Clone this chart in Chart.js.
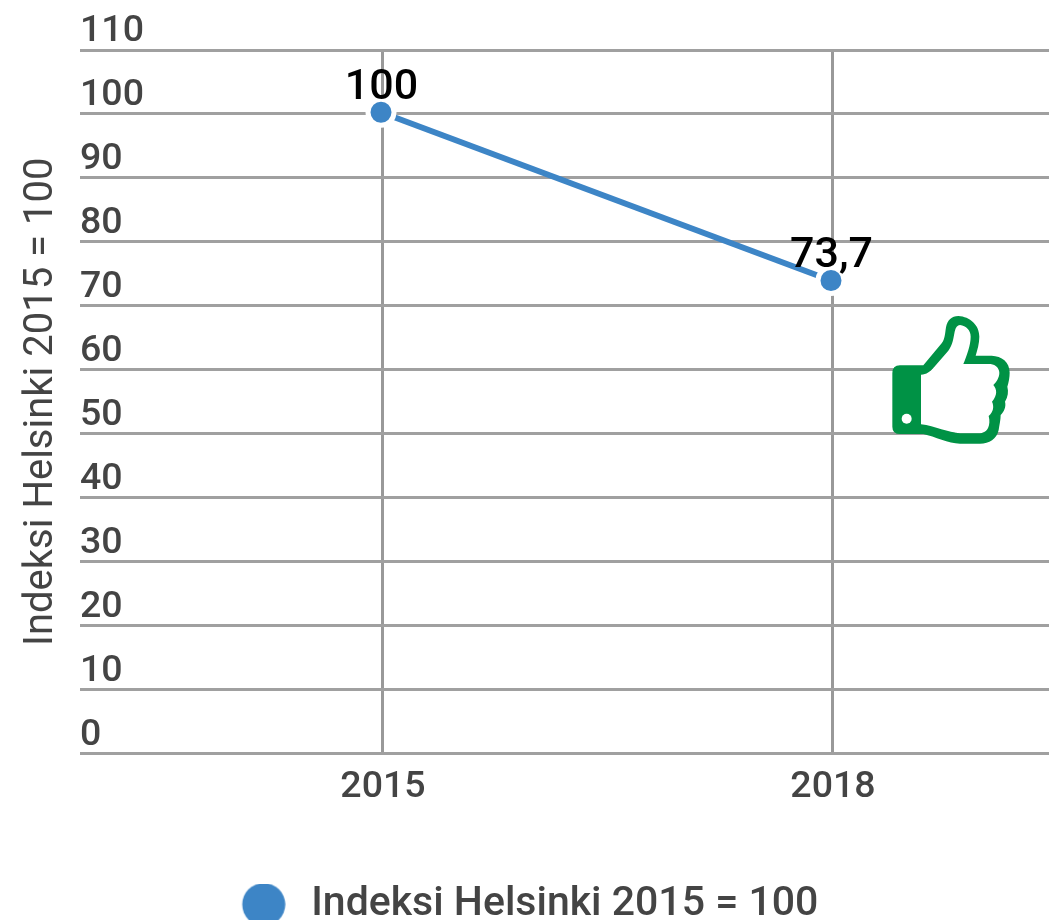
<!DOCTYPE html>
<html>
<head>
<meta charset="utf-8">
<style>
  body { margin: 0; background: #fff; }
  canvas { display: block; }
</style>
<script src="https://cdn.jsdelivr.net/npm/chart.js@4"></script>
</head>
<body>
<canvas id="chart" width="1049" height="920"></canvas>
<script>
const years = [2015, 2018];
const indexValues = [100, 73.7];
const valueLabels = ['100', '73,7'];
const seriesName = 'Indeksi Helsinki 2015 = 100';
const axisTitle = 'Indeksi Helsinki 2015 = 100';

const blue = '#3d85c6';
const green = '#009245';
const textColor = '#444444';
const fontFamily = 'Roboto';

// legend marker, the box is wider than the dot so the text sits further right
const legendDot = document.createElement('canvas');
legendDot.width = 50;
legendDot.height = 44;
const dotCtx = legendDot.getContext('2d');
dotCtx.fillStyle = blue;
dotCtx.beginPath();
dotCtx.arc(28, 22, 21.5, 0, Math.PI * 2);
dotCtx.fill();

// the series sits a touch up and left of the grid in the original
const seriesNudge = {
  id: 'seriesNudge',
  beforeDatasetsDraw(chart) {
    chart.ctx.save();
    chart.ctx.translate(-2, -1.7);
  },
  afterDatasetsDraw(chart) {
    chart.ctx.restore();
  }
};

const valueLabelPlugin = {
  id: 'valueLabels',
  afterDraw(chart) {
    const ctx = chart.ctx;
    const points = chart.getDatasetMeta(0).data;
    ctx.save();
    ctx.font = '500 43px ' + fontFamily;
    ctx.fillStyle = '#000';
    ctx.textAlign = 'center';
    ctx.textBaseline = 'alphabetic';
    points.forEach((p, i) => ctx.fillText(valueLabels[i], p.x - 1.5, p.y - 15));
    ctx.restore();
  }
};

// thumbs up icon, coordinates are in 3x units of the area it sits in
const thumbPlugin = {
  id: 'thumb',
  afterDraw(chart) {
    const ctx = chart.ctx;
    ctx.save();
    ctx.translate(860, 290);
    ctx.scale(1 / 3, 1 / 3);

    const outer = 'M97 250 Q97 226 120 226 L190 226 L245 160 C255 148 255 130 258 112 ' +
      'C262 90 275 78 295 78 C330 80 358 105 358 140 C358 160 352 180 347 197 L395 197 ' +
      'C425 198 449 215 449 248 C449 262 446 278 442 290 C446 305 444 320 435 335 ' +
      'C439 350 432 365 422 375 C422 390 418 405 416 420 C410 447 388 461 360 461 ' +
      'L300 461 C265 460 225 440 190 432 L120 432 Q97 432 97 410 Z ';
    const inner = 'M183 254 C200 254 210 245 222 232 L265 182 C278 165 280 145 284 125 ' +
      'C287 112 292 105 300 105 C318 108 332 120 332 140 C332 165 320 198 310 222 L392 222 ' +
      'C408 224 418 235 418 248 C418 262 410 275 400 285 C411 298 413 315 396 335 ' +
      'C403 350 400 365 386 378 C390 392 388 405 385 412 C380 425 370 430 356 430 ' +
      'L300 430 C265 428 225 408 183 403 Z';

    ctx.fillStyle = '#fff';
    ctx.fill(new Path2D(inner));
    ctx.fillStyle = green;
    ctx.fill(new Path2D(outer + inner), 'evenodd');
    ctx.fillStyle = '#fff';
    ctx.beginPath();
    ctx.arc(140, 386, 15, 0, Math.PI * 2);
    ctx.fill();
    ctx.restore();
  }
};

new Chart(document.getElementById('chart'), {
  type: 'line',
  data: {
    datasets: [{
      label: seriesName,
      data: years.map((y, i) => ({ x: y, y: indexValues[i] })),
      borderColor: blue,
      backgroundColor: blue,
      borderWidth: 6,
      pointBackgroundColor: blue,
      pointBorderColor: '#fff',
      pointBorderWidth: 5,
      pointRadius: 13,
      clip: false
    }]
  },
  options: {
    responsive: false,
    animation: false,
    layout: { autoPadding: false, padding: { top: 50, bottom: -15, left: 0, right: 0 } },
    scales: {
      x: {
        type: 'linear',
        min: 2012.98,
        max: 2019.44,
        afterBuildTicks(scale) { scale.ticks = years.map(v => ({ value: v })); },
        afterFit(scale) {
          scale.height = 130.5;
          scale.paddingLeft = 0;
          scale.paddingRight = 0;
        },
        border: { display: false },
        grid: { color: '#999999', lineWidth: 3, drawTicks: false },
        ticks: {
          callback: v => String(v),
          color: textColor,
          font: { family: fontFamily, size: 37.5, weight: '500' },
          padding: 12,
          maxRotation: 0,
          autoSkip: false
        }
      },
      y: {
        min: 0,
        max: 110,
        afterFit(scale) { scale.width = 80; },
        border: { display: false },
        grid: { color: '#a0a0a0', lineWidth: 3, drawTicks: false },
        title: {
          display: true,
          text: axisTitle,
          color: textColor,
          font: { family: fontFamily, size: 40 },
          padding: { top: 18, bottom: 0 }
        },
        ticks: {
          stepSize: 10,
          mirror: true,
          padding: 0,
          labelOffset: -18,
          autoSkip: false,
          color: textColor,
          font: { family: fontFamily, size: 37.5, weight: '500' }
        }
      }
    },
    plugins: {
      tooltip: { enabled: false },
      legend: {
        position: 'bottom',
        labels: {
          usePointStyle: true,
          pointStyle: legendDot,
          pointStyleWidth: 60,
          color: textColor,
          font: { family: fontFamily, size: 41, weight: '500', lineHeight: 1 },
          padding: 0
        }
      }
    }
  },
  plugins: [seriesNudge, valueLabelPlugin, thumbPlugin]
});
</script>
</body>
</html>
